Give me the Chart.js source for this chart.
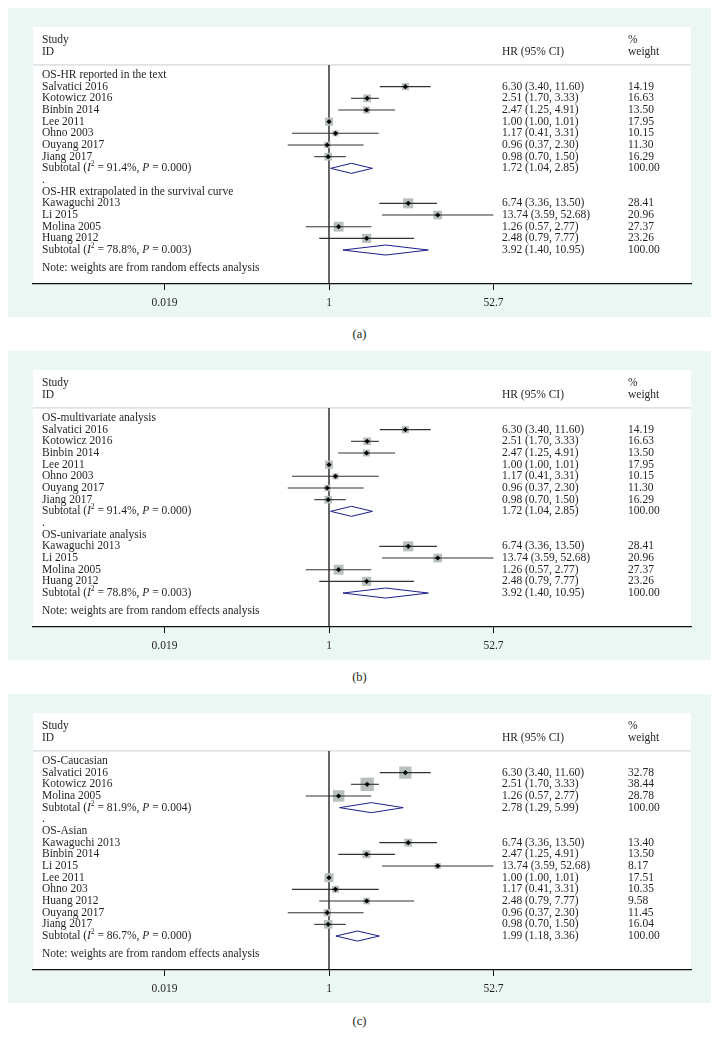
<!DOCTYPE html>
<html>
<head>
<meta charset="utf-8">
<script src="https://cdn.jsdelivr.net/npm/chart.js@4.4.1/dist/chart.umd.min.js"></script>
<style>
body { margin: 0; background: #fff; width: 719px; height: 1047px; position: relative; font-family: "Liberation Serif", serif; }
.panel { position: absolute; left: 8px; width: 703px; height: 309px; background: #eaf7f3; }
.panel canvas { display: block; }
.cap { position: absolute; left: 0; width: 719px; text-align: center; font-size: 12.5px; color: #231f20; }
</style>
</head>
<body>
<div class="panel" style="top:8px"><canvas id="chartA" width="703" height="309"></canvas></div>
<div class="cap" style="top:327px">(a)</div>
<div class="panel" style="top:351px"><canvas id="chartB" width="703" height="309"></canvas></div>
<div class="cap" style="top:670px">(b)</div>
<div class="panel" style="top:694px"><canvas id="chartC" width="703" height="309"></canvas></div>
<div class="cap" style="top:1014px">(c)</div>
<script>
// panels (a) and (b) share the same studies
const studiesAB = ['Salvatici 2016', 'Kotowicz 2016', 'Binbin 2014', 'Lee 2011', 'Ohno 2003', 'Ouyang 2017', 'Jiang 2017',
    'Kawaguchi 2013', 'Li 2015', 'Molina 2005', 'Huang 2012']
const hrAB = [6.30, 2.51, 2.47, 1.00, 1.17, 0.96, 0.98, 6.74, 13.74, 1.26, 2.48]
const lowAB = [3.40, 1.70, 1.25, 1.00, 0.41, 0.37, 0.70, 3.36, 3.59, 0.57, 0.79]
const highAB = [11.60, 3.33, 4.91, 1.01, 3.31, 2.30, 1.50, 13.50, 52.68, 2.77, 7.77]
const weightAB = [14.19, 16.63, 13.50, 17.95, 10.15, 11.30, 16.29, 28.41, 20.96, 27.37, 23.26]
const groupSizeAB = [7, 4]
const subHrAB = [1.72, 3.92]
const subLowAB = [1.04, 1.40]
const subHighAB = [2.85, 10.95]
const subI2AB = ['91.4%', '78.8%']
const subPAB = ['0.000', '0.003']
const groupsA = ['OS-HR reported in the text', 'OS-HR extrapolated in the survival curve']
const groupsB = ['OS-multivariate analysis', 'OS-univariate analysis']

// panel (c)
const groupsC = ['OS-Caucasian', 'OS-Asian']
const studiesC = ['Salvatici 2016', 'Kotowicz 2016', 'Molina 2005',
    'Kawaguchi 2013', 'Binbin 2014', 'Li 2015', 'Lee 2011', 'Ohno 203', 'Huang 2012', 'Ouyang 2017', 'Jiang 2017']
const hrC = [6.30, 2.51, 1.26, 6.74, 2.47, 13.74, 1.00, 1.17, 2.48, 0.96, 0.98]
const lowC = [3.40, 1.70, 0.57, 3.36, 1.25, 3.59, 1.00, 0.41, 0.79, 0.37, 0.70]
const highC = [11.60, 3.33, 2.77, 13.50, 4.91, 52.68, 1.01, 3.31, 7.77, 2.30, 1.50]
const weightC = [32.78, 38.44, 28.78, 13.40, 13.50, 8.17, 17.51, 10.35, 9.58, 11.45, 16.04]
const groupSizeC = [3, 8]
const subHrC = [2.78, 1.99]
const subLowC = [1.29, 1.18]
const subHighC = [5.99, 3.36]
const subI2C = ['81.9%', '86.7%']
const subPC = ['0.004', '0.000']

const xTicks = [0.019, 1, 52.7]
const noteText = 'Note: weights are from random effects analysis'

const FONT = '"Liberation Serif", "Times New Roman", serif'
const INK = '#231f20'
const SIZE = 11.5

const tablePlugin = {
    id: 'forestText',
    afterDraw(chart, args, opts) {
        const ctx = chart.ctx
        const y = chart.scales.y
        const left = chart.chartArea.left
        ctx.save()
        ctx.fillStyle = INK
        ctx.textBaseline = 'middle'
        opts.rows.forEach(r => {
            const py = y.getPixelForValue(r.row)
            let px = left + 9
            r.runs.forEach(run => {
                const txt = run[0], st = run[1]
                if (st == 's') {
                    ctx.font = '7.5px ' + FONT
                    ctx.fillText(txt, px, py - 4)
                } else {
                    ctx.font = (st == 'i' ? 'italic ' : '') + SIZE + 'px ' + FONT
                    ctx.fillText(txt, px, py)
                }
                px += ctx.measureText(txt).width
            })
            ctx.font = SIZE + 'px ' + FONT
            if (r.hr) ctx.fillText(r.hr, left + 469, py)
            if (r.wt) ctx.fillText(r.wt, left + 595, py)
        })
        ctx.restore()
    }
}

const whiteArea = {
    id: 'whiteArea',
    beforeDraw(chart) {
        const a = chart.chartArea
        chart.ctx.save()
        chart.ctx.fillStyle = '#fff'
        chart.ctx.fillRect(a.left, a.top, a.right - a.left, a.bottom - a.top)
        chart.ctx.restore()
    }
}

function ci(h, l, u) {
    return h.toFixed(2) + ' (' + l.toFixed(2) + ', ' + u.toFixed(2) + ')'
}

function makePanel(id, groups, names, hr, low, high, weight, sizes, subHr, subLow, subHigh, subI2, subP, boxK) {
    const xMin = 0.000798, xMax = 6148
    var rows = [
        { row: -3, runs: [['Study', '']], wt: '%' },
        { row: -2, runs: [['ID', '']], hr: 'HR (95% CI)', wt: 'weight' }
    ]
    var ciSets = []
    var boxPts = [], boxR = [], dotPts = [], diamonds = []
    var r = 0, k = 0
    groups.forEach((g, gi) => {
        rows.push({ row: r++, runs: [[g, '']] })
        for (var j = 0; j < sizes[gi]; j++, k++) {
            rows.push({ row: r, runs: [[names[k], '']], hr: ci(hr[k], low[k], high[k]), wt: weight[k].toFixed(2) })
            ciSets.push([{ x: low[k], y: r }, { x: high[k], y: r }])
            boxPts.push({ x: hr[k], y: r })
            boxR.push(boxK * Math.sqrt(weight[k]) / Math.SQRT2)
            dotPts.push({ x: hr[k], y: r })
            r++
        }
        rows.push({
            row: r,
            runs: [['Subtotal (', ''], ['I', 'i'], ['2', 's'], [' = ' + subI2[gi] + ', ', ''], ['P', 'i'], [' = ' + subP[gi] + ')', '']],
            hr: ci(subHr[gi], subLow[gi], subHigh[gi]), wt: '100.00'
        })
        diamonds.push([
            { x: subLow[gi], y: r }, { x: subHr[gi], y: r - 0.43 }, { x: subHigh[gi], y: r },
            { x: subHr[gi], y: r + 0.43 }, { x: subLow[gi], y: r }
        ])
        r++
        if (gi < groups.length - 1) rows.push({ row: r++, runs: [['.', '']] })
    })
    rows.push({ row: r + 0.5, runs: [[noteText, '']] })

    var datasets = []
    datasets.push({ data: dotPts, pointStyle: 'rectRot', pointRadius: 2.6, backgroundColor: '#000', borderWidth: 0, order: 0 })
    ciSets.forEach(s => datasets.push({ data: s, showLine: true, borderColor: '#333', borderWidth: 1.1, pointRadius: 0, order: 1 }))
    diamonds.forEach(s => datasets.push({ data: s, showLine: true, borderColor: '#1d1f8a', borderWidth: 1, pointRadius: 0, tension: 0, order: 2 }))
    datasets.push({ data: boxPts, pointStyle: 'rect', pointRadius: boxR, backgroundColor: '#b7c0bc', borderWidth: 0, order: 3 })
    datasets.push({ data: [{ x: 1, y: -0.86 }, { x: 1, y: 18 }], showLine: true, borderColor: '#000', borderWidth: 1.2, pointRadius: 0, order: 4 })
    datasets.push({ data: [{ x: xMin, y: -0.86 }, { x: xMax, y: -0.86 }], showLine: true, borderColor: '#c9cfcc', borderWidth: 1, pointRadius: 0, order: 5 })

    new Chart(document.getElementById(id), {
        type: 'scatter',
        data: { datasets: datasets },
        options: {
            responsive: false,
            animation: false,
            layout: { padding: { left: 25, right: 20, top: 19, bottom: 0 } },
            plugins: {
                legend: { display: false },
                tooltip: { enabled: false },
                forestText: { rows: rows }
            },
            scales: {
                x: {
                    type: 'logarithmic',
                    min: xMin,
                    max: xMax,
                    afterBuildTicks: s => { s.ticks = xTicks.map(v => ({ value: v })) },
                    afterFit: s => { s.height = 33 },
                    ticks: {
                        callback: v => String(v),
                        font: { family: FONT, size: SIZE },
                        color: INK,
                        padding: 6,
                        maxRotation: 0,
                        autoSkip: false
                    },
                    grid: { drawOnChartArea: false, tickLength: 6, color: '#111', lineWidth: 1 },
                    border: { display: true, color: '#111', width: 1.2 }
                },
                y: {
                    type: 'linear',
                    reverse: true,
                    min: -4.11,
                    max: 17.91,
                    display: false
                }
            }
        },
        plugins: [whiteArea, tablePlugin]
    })
}

makePanel('chartA', groupsA, studiesAB, hrAB, lowAB, highAB, weightAB, groupSizeAB, subHrAB, subLowAB, subHighAB, subI2AB, subPAB, 1.9)
makePanel('chartB', groupsB, studiesAB, hrAB, lowAB, highAB, weightAB, groupSizeAB, subHrAB, subLowAB, subHighAB, subI2AB, subPAB, 1.9)
makePanel('chartC', groupsC, studiesC, hrC, lowC, highC, weightC, groupSizeC, subHrC, subLowC, subHighC, subI2C, subPC, 2.15)
</script>
</body>
</html>
